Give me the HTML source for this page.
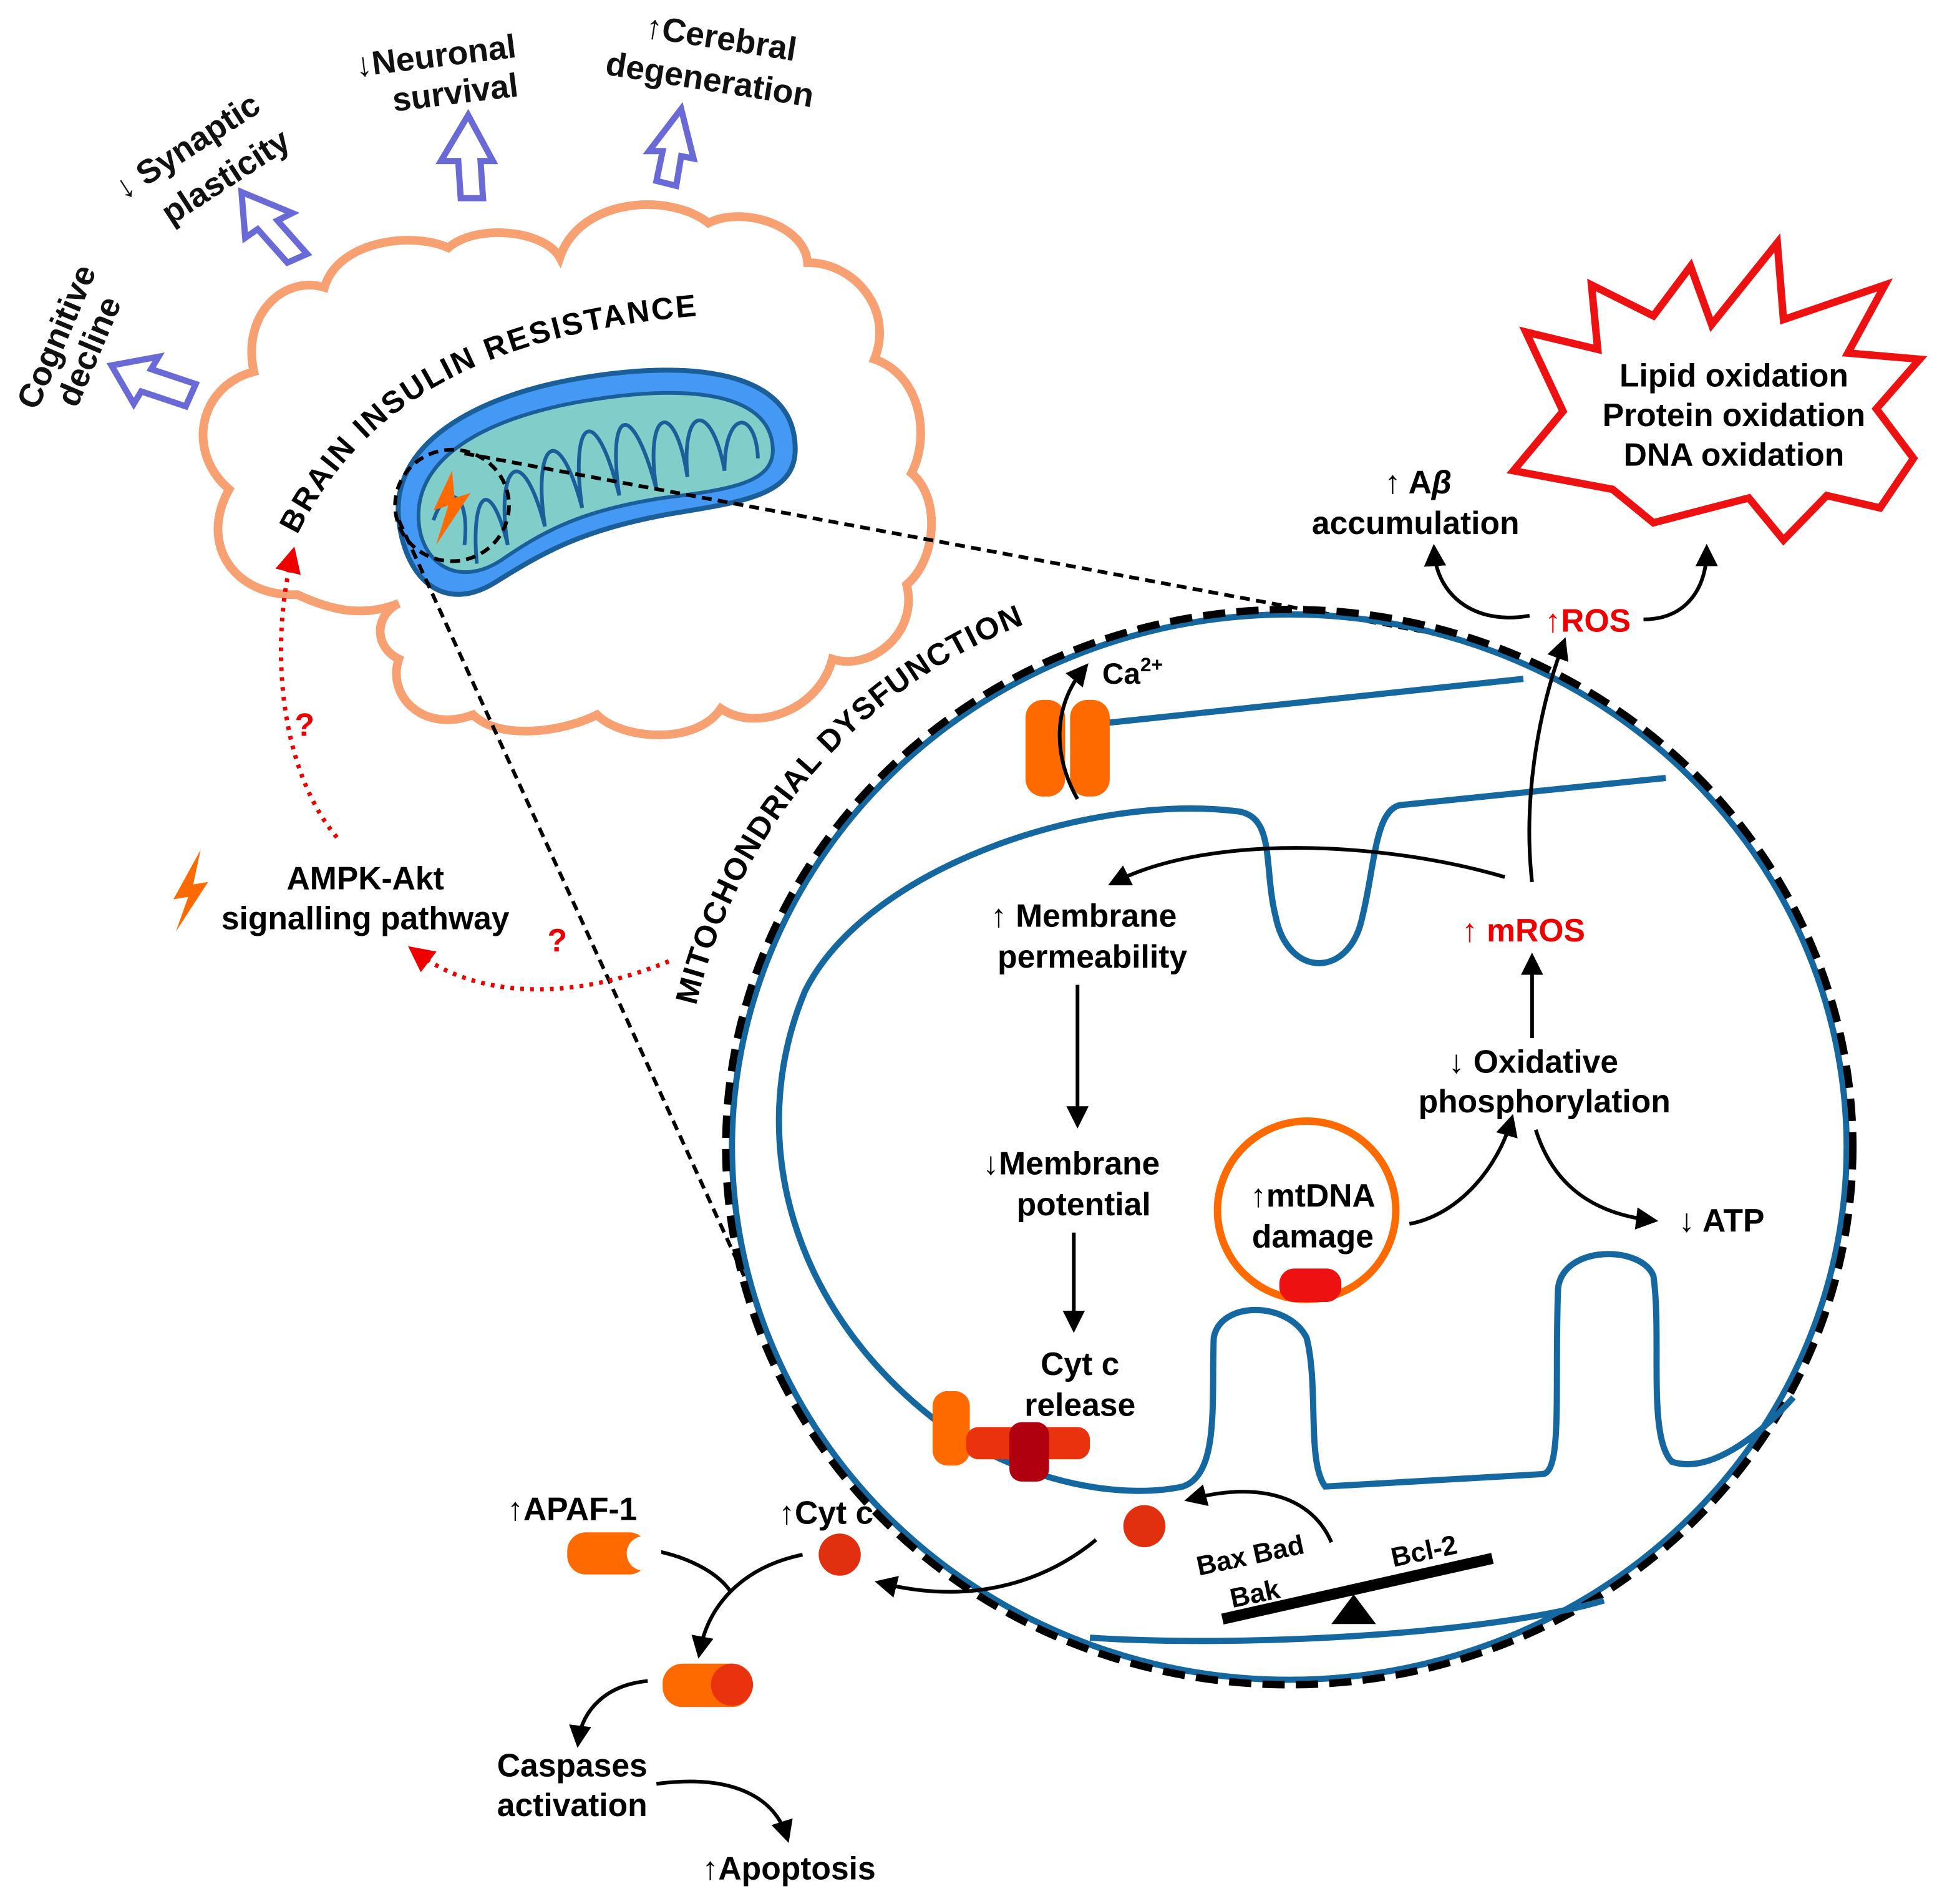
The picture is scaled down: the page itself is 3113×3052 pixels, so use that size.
<!DOCTYPE html>
<html><head><meta charset="utf-8"><style>
html,body{margin:0;padding:0;background:#fff;}
svg{display:block;}
text{font-family:"Liberation Sans",sans-serif;font-weight:bold;}
</style></head><body>
<svg width="3113" height="3052" viewBox="0 0 1568 1537" preserveAspectRatio="none" xmlns="http://www.w3.org/2000/svg">
<defs>
<marker id="ah" markerWidth="6" markerHeight="6" refX="4" refY="3" orient="auto" markerUnits="strokeWidth"><path d="M0,0 L6,3 L0,6 Z" fill="#000"/></marker>
<marker id="ahr" markerWidth="6" markerHeight="6" refX="4" refY="3" orient="auto" markerUnits="strokeWidth"><path d="M0,0 L6,3 L0,6 Z" fill="#e00"/></marker>
</defs>
<rect width="1568" height="1537" fill="#fff"/>

<!-- brain -->
<path d="M240,480 C190,482 160,440 185,395 C150,365 160,312 205,300 C195,255 228,222 262,232 C272,196 330,186 362,200 C385,180 440,186 452,208 C468,160 540,155 572,180 C600,166 650,182 652,212 C690,212 722,250 706,290 C742,302 752,350 736,382 C760,402 756,452 732,472 C742,512 702,542 672,532 C662,572 612,592 582,572 C562,602 502,597 482,577 C452,592 402,597 382,577 C342,592 312,562 322,532 C302,522 302,497 322,487 C290,500 262,490 240,480 Z" fill="none" stroke="#f7a072" stroke-width="7"/>

<!-- mitochondrion -->
<path d="M322,420 C315,360 380,320 470,305 C560,290 640,300 642,360 C644,400 600,405 540,415 C470,428 440,445 400,470 C360,495 328,470 322,420 Z" fill="#4499f5" stroke="#1b5f9a" stroke-width="4"/>
<path d="M338,420 C335,370 390,338 470,324 C550,310 622,315 624,362 C625,390 590,395 535,402 C470,412 440,428 405,452 C370,475 340,455 338,420 Z" fill="#80cdc9" stroke="#1b5f9a" stroke-width="3"/>
<path d="M350,420 C360,390 380,395 375,440 M385,455 C380,400 395,380 410,440 C400,380 420,350 440,425 C430,360 450,335 470,410 C460,340 480,320 500,400 C490,330 510,320 530,395 C520,330 545,320 555,385 C550,325 575,325 585,380 C585,330 610,330 612,370" fill="none" stroke="#1b5f9a" stroke-width="3"/>
<path d="M365,380 L350,412 L362,408 L352,440 L380,398 L367,402 Z" fill="#ff6a00"/>
<ellipse cx="365" cy="408" rx="46" ry="45" fill="none" stroke="#000" stroke-width="3" stroke-dasharray="8,5"/>
<line x1="375" y1="366" x2="1150" y2="510" stroke="#000" stroke-width="3" stroke-dasharray="8,5"/>
<line x1="322" y1="420" x2="603" y2="1035" stroke="#000" stroke-width="3" stroke-dasharray="8,5"/>

<!-- curved title -->
<path id="arc1" d="M240,432 C300,310 420,260 610,252" fill="none"/>
<text font-size="25" letter-spacing="1.5"><textPath href="#arc1">BRAIN INSULIN RESISTANCE</textPath></text>

<!-- purple arrows -->
<g fill="#fff" stroke="#6a6ad6" stroke-width="5" stroke-linejoin="miter">
<path d="M90,295 L128,288 L122,298 L158,310 L150,328 L114,316 L108,326 Z"/>
<path d="M195,155 L236,172 L224,178 L248,205 L232,212 L208,185 L198,192 Z"/>
<path d="M378,93 L398,130 L388,130 L390,160 L372,160 L370,130 L356,130 Z"/>
<path d="M550,88 L560,128 L550,126 L546,150 L530,146 L535,122 L524,122 Z"/>
</g>
<g font-size="27" fill="#111">
<text transform="translate(30,332) rotate(-67)">Cognitive</text>
<text transform="translate(62,330) rotate(-67)" >decline</text>
<text transform="translate(100,162) rotate(-33)">↓ Synaptic</text>
<text transform="translate(138,182) rotate(-33)">plasticity</text>
<text transform="translate(288,62) rotate(-7)">↓Neuronal</text>
<text transform="translate(318,90) rotate(-7)">survival</text>
<text transform="translate(520,30) rotate(9)">↑Cerebral</text>
<text transform="translate(488,60) rotate(9)">degeneration</text>
</g>

<!-- AMPK -->
<path d="M162,686 L140,726 L152,724 L142,752 L168,712 L156,714 Z" fill="#ff6a00"/>
<text x="295" y="718" font-size="26" text-anchor="middle">AMPK-Akt</text>
<text x="295" y="750" font-size="26" text-anchor="middle">signalling pathway</text>
<path d="M272,676 C225,620 218,520 236,448" fill="none" stroke="#e00" stroke-width="3.5" stroke-dasharray="3,5" marker-end="url(#ahr)"/>
<text x="238" y="594" font-size="26" fill="#e00">?</text>
<path d="M540,776 C470,805 390,810 335,768" fill="none" stroke="#e00" stroke-width="3.5" stroke-dasharray="3,5" marker-end="url(#ahr)"/>
<text x="442" y="768" font-size="26" fill="#e00">?</text>

<!-- mito dysfunction text -->
<path id="arc2" d="M562,812 C600,650 720,530 870,490" fill="none"/>
<text font-size="25" letter-spacing="1"><textPath href="#arc2">MITOCHONDRIAL DYSFUNCTION</textPath></text>

<!-- big circle -->
<ellipse cx="1041" cy="926" rx="450" ry="430" fill="none" stroke="#1567a0" stroke-width="5"/>
<ellipse cx="1041" cy="926" rx="455" ry="434" fill="none" stroke="#000" stroke-width="6" stroke-dasharray="18,9"/>
<path d="M880,585 L1230,548" stroke="#1567a0" stroke-width="5" fill="none"/>
<path d="M1345,628 L1130,650 C1110,655 1110,700 1100,740 C1090,790 1040,790 1030,740 C1020,700 1030,660 1000,655 C880,640 700,700 650,800 C600,920 640,1060 760,1150 C830,1200 910,1210 955,1200 C985,1190 978,1130 980,1080 C985,1050 1040,1050 1055,1080 C1065,1120 1055,1180 1070,1200 L1245,1190 C1262,1190 1255,1120 1258,1040 C1262,1005 1325,1005 1335,1030 C1342,1080 1330,1160 1350,1180 C1380,1190 1420,1160 1448,1128" fill="none" stroke="#1567a0" stroke-width="5"/>
<path d="M880,1322 C1000,1330 1200,1320 1295,1292" fill="none" stroke="#1567a0" stroke-width="5"/>

<!-- star -->
<polygon points="1232,268 1290,282 1285,230 1335,255 1365,215 1382,262 1435,196 1440,258 1522,230 1492,285 1550,290 1515,330 1545,370 1518,410 1475,400 1440,436 1412,402 1335,422 1302,395 1222,380 1262,332" fill="#fff" stroke="#ee1111" stroke-width="6" stroke-linejoin="miter"/>

<!-- Ca channel -->
<rect x="828" y="565" width="32" height="78" rx="14" fill="#ff6a00"/>
<rect x="864" y="565" width="32" height="78" rx="14" fill="#ff6a00"/>
<path d="M870,645 C850,610 850,570 875,540" fill="none" stroke="#000" stroke-width="3" marker-end="url(#ah)"/>
<text x="890" y="552" font-size="24">Ca<tspan font-size="16" dy="-10">2+</tspan></text>

<g font-size="26" text-anchor="middle">
<text x="875" y="748">↑ Membrane</text>
<text x="882" y="781">permeability</text>
<text x="865" y="948">↓Membrane</text>
<text x="875" y="981">potential</text>
<text x="872" y="1110">Cyt c</text>
<text x="872" y="1143">release</text>
<text x="1238" y="866">↓ Oxidative</text>
<text x="1247" y="898">phosphorylation</text>
<text x="1060" y="974">↑mtDNA</text>
<text x="1060" y="1007">damage</text>
<text x="1390" y="994">↓  ATP</text>
<text x="1145" y="398">↑ A<tspan font-style="italic">β</tspan></text>
<text x="1143" y="431">accumulation</text>
<text x="1400" y="312">Lipid oxidation</text>
<text x="1400" y="344">Protein oxidation</text>
<text x="1400" y="376">DNA oxidation</text>
<text x="1230" y="760" fill="#e00">↑ mROS</text>
<text x="1282" y="510" fill="#e00">↑ROS</text>
</g>

<g fill="none" stroke="#000" stroke-width="3">
<path d="M1215,708 C1120,680 980,672 900,712" marker-end="url(#ah)"/>
<path d="M1237,712 C1230,650 1240,580 1262,520" marker-end="url(#ah)"/>
<path d="M870,795 L870,905" marker-end="url(#ah)"/>
<path d="M867,995 L867,1070" marker-end="url(#ah)"/>
<path d="M1237,838 L1237,775" marker-end="url(#ah)"/>
<path d="M1138,988 C1180,980 1210,940 1220,905" marker-end="url(#ah)"/>
<path d="M1240,912 C1255,960 1290,980 1333,985" marker-end="url(#ah)"/>
<path d="M1235,497 C1190,505 1160,480 1158,445" marker-end="url(#ah)"/>
<path d="M1327,500 C1365,500 1378,470 1378,445" marker-end="url(#ah)"/>
<path d="M1075,1245 C1060,1210 1020,1195 962,1210" marker-end="url(#ah)"/>
<path d="M885,1243 C840,1280 780,1295 712,1278" marker-end="url(#ah)"/>
<path d="M518,1250 C555,1255 580,1270 590,1285" />
<path d="M648,1255 C600,1265 572,1295 565,1333" marker-end="url(#ah)"/>
<path d="M523,1357 C490,1360 470,1380 467,1405" marker-end="url(#ah)"/>
<path d="M530,1440 C590,1432 625,1450 635,1482" marker-end="url(#ah)"/>
</g>

<circle cx="1055" cy="977" r="72" fill="none" stroke="#ff6a00" stroke-width="6"/>
<rect x="1033" y="1024" width="50" height="27" rx="12" fill="#ee1111"/>

<rect x="753" y="1123" width="30" height="60" rx="12" fill="#ff6a00"/>
<rect x="780" y="1152" width="100" height="26" rx="10" fill="#e8330e"/>
<rect x="815" y="1148" width="32" height="48" rx="10" fill="#b00010"/>

<circle cx="924" cy="1232" r="17" fill="#e03010"/>
<circle cx="678" cy="1255" r="17" fill="#e03010"/>

<line x1="987" y1="1307" x2="1205" y2="1258" stroke="#000" stroke-width="9"/>
<polygon points="1075,1311 1111,1311 1093,1287" fill="#000"/>
<text transform="translate(968,1272) rotate(-12)" font-size="22">Bax Bad</text>
<text transform="translate(995,1298) rotate(-12)" font-size="22">Bak</text>
<text transform="translate(1125,1265) rotate(-12)" font-size="22">Bcl-2</text>

<rect x="458" y="1237" width="65" height="34" rx="15" fill="#ff6a00"/>
<circle cx="520" cy="1254" r="14" fill="#fff"/>
<rect x="535" y="1343" width="72" height="35" rx="16" fill="#ff6a00"/>
<circle cx="591" cy="1360" r="17" fill="#e8330e"/>
<g font-size="26" text-anchor="middle">
<text x="462" y="1227">↑APAF-1</text>
<text x="667" y="1230">↑Cyt c</text>
<text x="462" y="1434">Caspases</text>
<text x="462" y="1466">activation</text>
<text x="637" y="1517">↑Apoptosis</text>
</g>
</svg>
</body></html>
